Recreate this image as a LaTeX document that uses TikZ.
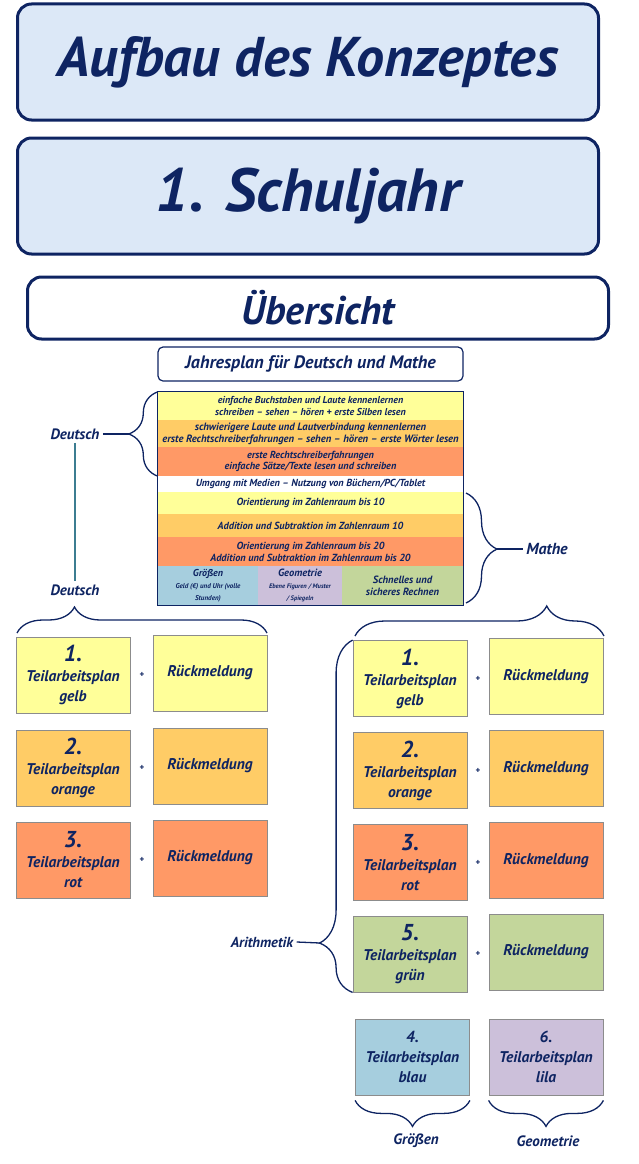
\documentclass[tikz,border=0pt]{standalone}
\usepackage{fontspec}
\setmainfont{PT Sans}
\usetikzlibrary{positioning}
\usetikzlibrary{decorations.pathreplacing}
\definecolor{navy}{RGB}{14,36,98}
\definecolor{titelblau}{RGB}{220,232,247}
\definecolor{cgelb}{RGB}{255,255,153}
\definecolor{corange}{RGB}{255,204,102}
\definecolor{crot}{RGB}{255,153,102}
\definecolor{cgruen}{RGB}{195,214,155}
\definecolor{cblau}{RGB}{166,206,222}
\definecolor{clila}{RGB}{204,192,218}
\definecolor{rahmen}{RGB}{140,140,140}
\definecolor{petrol}{RGB}{60,125,145}

\begin{document}
\begin{tikzpicture}[x=1pt,y=-1pt]

		  \tikzset{
			titel/.style={draw=navy,line width=3pt,rounded corners=14pt,fill=titelblau,
			  text=navy,minimum width=581,minimum height=116,inner sep=0},
			zeile/.style={minimum width=305,inner sep=0,align=center,text=navy,
			  font=\bfseries\itshape\fontsize{#1}{11.8}\selectfont},
			zeile/.default=10.3,
			plan/.style={draw=rahmen,line width=0.8pt,minimum width=114,minimum height=76,
			  inner sep=0,align=center,text=navy,font=\bfseries\itshape\fontsize{15.5}{20}\selectfont},
			plus/.style={text=navy,font=\bfseries\fontsize{9}{9}\selectfont},
			lbl/.style={text=navy,font=\bfseries\itshape\fontsize{15}{15}\selectfont},
			brc/.style={decorate,decoration={brace,amplitude=#1},draw=navy,line width=1.3pt},
		  }
		  \useasboundingbox (0,0) rectangle (639,1164);
		  %TITEL
		  \node[titel,font=\bfseries\itshape\fontsize{56}{56}\selectfont] (titel) at (308,62) {Aufbau des Konzeptes};
		  \node[titel,font=\bfseries\itshape\fontsize{61}{61}\selectfont] (jahr) at (308,196) {1. Schuljahr};
		  \node[titel,fill=white,minimum height=62,font=\bfseries\itshape\fontsize{40}{40}\selectfont] (uebersicht) at (318,308) {Übersicht};
		  \node[draw=navy,line width=1.2pt,rounded corners=5pt,minimum width=305,minimum height=34,inner sep=0,
			text=navy,font=\bfseries\itshape\fontsize{18}{18}\selectfont] (jahresplan) at (310.5,364) {Jahresplan für Deutsch und Mathe};
		  %TABELLE
		  \foreach \name/\farbe/\y/\h/\fs/\txt in {
			z1/cgelb/406/28/10/{einfache Buchstaben und Laute kennenlernen\\schreiben – sehen – hören + erste Silben lesen},
			z2/corange/433.5/27/10.6/{schwierigere Laute und Lautverbindung kennenlernen\\erste Rechtschreiberfahrungen – sehen – hören – erste Wörter lesen},
			z3/crot/461.5/29/10.2/{erste Rechtschreiberfahrungen\\einfache Sätze/Texte lesen und schreiben},
			z4/white/484/16/10.2/{Umgang mit Medien – Nutzung von Büchern/PC/Tablet},
			z5/cgelb/503/22/10.3/{Orientierung im Zahlenraum bis 10},
			z6/corange/525.5/23/10.3/{Addition und Subtraktion im Zahlenraum 10},
			z7/crot/551.5/29/10.3/{Orientierung im Zahlenraum bis 20\\Addition und Subtraktion im Zahlenraum bis 20}}{
			\node[zeile=\fs,fill=\farbe,minimum height=\h] (\name) at (310.5,\y) {\txt};
		  }
		  \node[zeile=7,fill=cblau,minimum width=100,minimum height=39] (groessen) at (208,585.5)
			{\fontsize{10}{13}\selectfont Größen\\Geld (€) und Uhr (volle\\Stunden)};
		  \node[zeile=6.5,fill=clila,minimum width=84,minimum height=39] (geometrie) at (300,585.5)
			{\fontsize{10.5}{13}\selectfont Geometrie\\Ebene Figuren / Muster\\/ Spiegeln};
		  \node[zeile=10.5,fill=cgruen,minimum width=121,minimum height=39] (rechnen) at (402.5,585.5)
			{Schnelles und\\sicheres Rechnen};
		  \draw[navy,line width=1.2pt] (z1.north west) rectangle (rechnen.south east);
		  %DEUTSCH
		  \node[lbl] (deutsch) at (75,434) {Deutsch};
		  \node[lbl] (deutschb) at (75,590) {Deutsch};
		  \coordinate (dtip) at (129,434);
		  \draw[brc=29,decoration={aspect=0.5}] (z3.south west) -- (z1.north west);
		  \draw[navy,line width=1.3pt] (deutsch.east) -- (dtip);
		  \draw[petrol,line width=1.5pt] (deutsch) -- (deutschb);
		  \draw[brc=26,decoration={aspect=0.23}] (17,633) -- (267,633);
		  \foreach \n/\farbe/\wort/\y in {1/cgelb/gelb/675,2/corange/orange/768,3/crot/rot/860}{
			\node[plan,fill=\farbe] (d\n) at (73,\y) {{\fontsize{23}{22}\selectfont\n.}\\Teilarbeitsplan\\\wort};
			\node[plus] (dp\n) at (142,\y) {+};
			\node[plan,fill=\farbe] (dr\n) at (210,\y-2) {Rückmeldung};
		  }
		  %MATHE
		  \node[lbl,font=\bfseries\itshape\fontsize{16}{16}\selectfont] (mathe) at (547,549) {Mathe};
		  \coordinate (mtip) at (497,549);
		  \draw[brc=31,decoration={aspect=0.51}] (466,493) -- (466,603);
		  \draw[navy,line width=1.3pt] (mtip) -- (mathe.west);
		  \draw[brc=30,decoration={aspect=0.77}] (355,636) -- (604,636);
		  \foreach \n/\farbe/\wort/\y in {1/cgelb/gelb/678.5,2/corange/orange/770.5,3/crot/rot/862.5,5/cgruen/grün/954}{
			\node[plan,fill=\farbe] (m\n) at (410,\y) {{\fontsize{23}{22}\selectfont\n.}\\Teilarbeitsplan\\\wort};
			\node[plus] (mp\n) at (478,\y) {+};
			\node[plan,fill=\farbe] (mr\n) at (546,\y-2) {Rückmeldung};
		  }
		  \node[plan,fill=cblau] (m4) at (412.5,1057) {{\fontsize{16}{16}\selectfont 4.}\\Teilarbeitsplan\\blau};
		  \node[plan,fill=clila] (m6) at (546,1057) {{\fontsize{16}{16}\selectfont 6.}\\Teilarbeitsplan\\lila};
		  %ARITHMETIK
		  \node[lbl,font=\bfseries\itshape\fontsize{14.5}{14.5}\selectfont] (arithmetik) at (262,942) {Arithmetik};
		  \coordinate (atip) at (320,943);
		  \draw[brc=33,decoration={aspect=0.14}] (m5.south west) -- (m1.north west);
		  \draw[navy,line width=1.3pt] (arithmetik.east) -- (atip);
		  %GROESSEN UND GEOMETRIE
		  \node[lbl] (lgroessen) at (416,1141) {Größen};
		  \node[lbl] (lgeometrie) at (548,1141) {Geometrie};
		  \draw[brc=26] ([yshift=-5pt]m4.south east) -- ([yshift=-5pt]m4.south west);
		  \draw[brc=26] ([yshift=-5pt]m6.south east) -- ([yshift=-5pt]m6.south west);
\end{tikzpicture}
\end{document}
